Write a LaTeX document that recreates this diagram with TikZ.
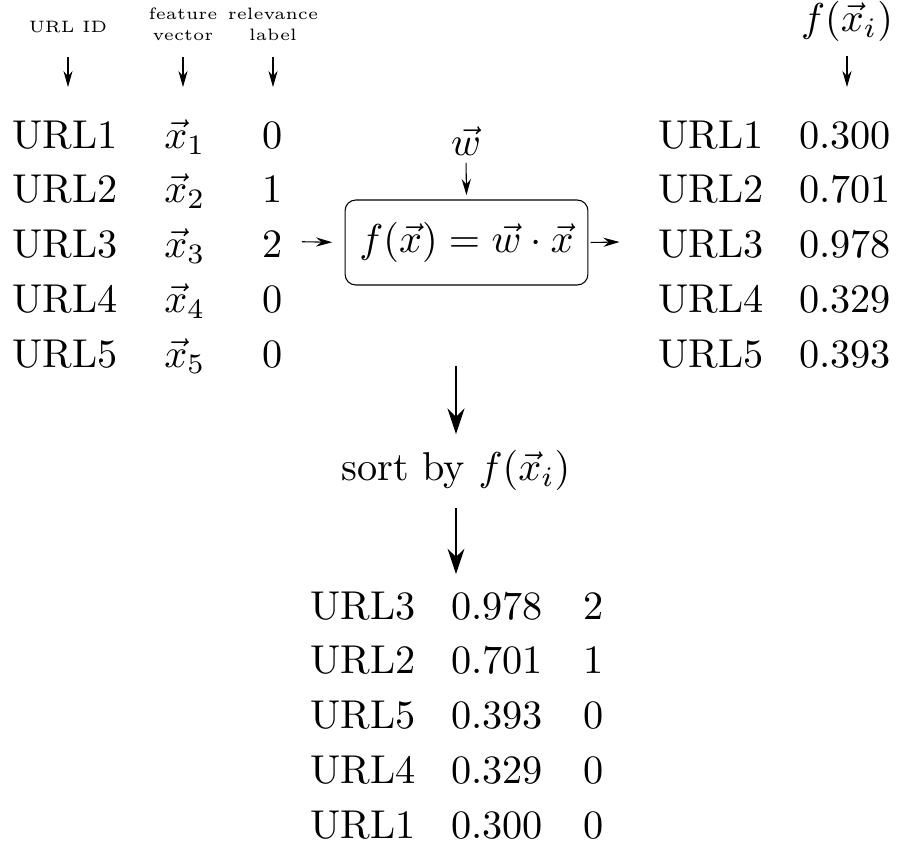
\documentclass[tikz,border=0pt]{standalone}
\usepackage{amsmath,amssymb}
\usetikzlibrary{arrows.meta}

\begin{document}
\begin{tikzpicture}[x=0.3724pt,y=-0.3724pt,
  every node/.style={scale=1.5},
  cell/.style={inner sep=0pt,anchor=base,text height=8pt,text depth=0pt},
  colhead/.style={inner sep=0pt,anchor=south,font=\fontsize{4.1}{5}\selectfont,align=center},
  sarr/.style={-{Stealth[length=6pt,width=3.4pt]}},
  barr/.style={line width=0.75pt,-{Stealth[length=9.5pt,width=6.3pt]}},
  scorebox/.style={draw,rounded corners=4pt,inner sep=0pt,minimum width=60.3pt,minimum height=21.1pt}]
  \useasboundingbox (0,0) rectangle (899,846);
  % column headings
  \node[colhead] (uid) at (68,34) {URL ID};
  \node[colhead] (fvec) at (183,41) {feature\\vector};
  \node[colhead] (rlab) at (273,41) {relevance\\label};
  \node[inner sep=0pt,anchor=south] (fxi) at (847,42) {$f(\vec{x}_i)$};
  % input list
  \node[cell] (l1u) at (65,148) {URL1}; \node[cell] (l1v) at (185,148) {$\vec{x}_1$}; \node[cell] (l1d) at (273,148) {0};
  \node[cell] (l2u) at (65,202.75) {URL2}; \node[cell] (l2v) at (185,202.75) {$\vec{x}_2$}; \node[cell] (l2d) at (273,202.75) {1};
  \node[cell] (l3u) at (65,257.5) {URL3}; \node[cell] (l3v) at (185,257.5) {$\vec{x}_3$}; \node[cell] (l3d) at (273,257.5) {2};
  \node[cell] (l4u) at (65,312.25) {URL4}; \node[cell] (l4v) at (185,312.25) {$\vec{x}_4$}; \node[cell] (l4d) at (273,312.25) {0};
  \node[cell] (l5u) at (65,367) {URL5}; \node[cell] (l5v) at (185,367) {$\vec{x}_5$}; \node[cell] (l5d) at (273,367) {0};
  % scoring function
  \node[inner sep=0pt,anchor=base] (w) at (466,155) {$\vec{w}$};
  \node[scorebox] (score) at (466.5,242.5) {$f(\vec{x})=\vec{w}\cdot\vec{x}$};
  % scores
  \node[cell] (r1u) at (711,148) {URL1}; \node[cell] (r1v) at (845,148) {0.300};
  \node[cell] (r2u) at (711,202.75) {URL2}; \node[cell] (r2v) at (845,202.75) {0.701};
  \node[cell] (r3u) at (711,257.5) {URL3}; \node[cell] (r3v) at (845,257.5) {0.978};
  \node[cell] (r4u) at (711,312.25) {URL4}; \node[cell] (r4v) at (845,312.25) {0.329};
  \node[cell] (r5u) at (711,367) {URL5}; \node[cell] (r5v) at (845,367) {0.393};
  % sorted list
  \node[inner sep=0pt,anchor=base,text height=8pt,text depth=2.7pt] (sort) at (456,480) {sort by $f(\vec{x}_i)$};
  \node[cell] (b1u) at (363,619) {URL3}; \node[cell] (b1v) at (497,619) {0.978}; \node[cell] (b1d) at (594,619) {2};
  \node[cell] (b2u) at (363,673.75) {URL2}; \node[cell] (b2v) at (497,673.75) {0.701}; \node[cell] (b2d) at (594,673.75) {1};
  \node[cell] (b3u) at (363,728.5) {URL5}; \node[cell] (b3v) at (497,728.5) {0.393}; \node[cell] (b3d) at (594,728.5) {0};
  \node[cell] (b4u) at (363,783.25) {URL4}; \node[cell] (b4v) at (497,783.25) {0.329}; \node[cell] (b4d) at (594,783.25) {0};
  \node[cell] (b5u) at (363,838) {URL1}; \node[cell] (b5v) at (497,838) {0.300}; \node[cell] (b5d) at (594,838) {0};
  % arrows
  \draw[sarr,shorten <=8.6pt,shorten >=10.4pt] (uid.south) -- (uid.south |- l1u.north);
  \draw[sarr,shorten <=6pt,shorten >=10.4pt] (fvec.south) -- (fvec.south |- l1v.north);
  \draw[sarr,shorten <=6pt,shorten >=10.4pt] (rlab.south) -- (rlab.south |- l1d.north);
  \draw[sarr,shorten <=5.2pt,shorten >=10.4pt] (fxi.south) -- (fxi.south |- r1v.north);
  \draw[sarr,shorten <=2.6pt,shorten >=1.5pt] (w.south) -- (score.north);
  \draw[sarr,shorten <=6.7pt,shorten >=4.5pt] (l3d.east) -- (score.west);
  \draw[sarr,shorten <=0.7pt,shorten >=14.2pt] (score.east) -- (r3u.west);
  \draw[barr,shorten <=29.8pt,shorten >=4.8pt] (score.south -| sort) -- (sort.north);
  \draw[barr,shorten <=6.1pt,shorten >=4.4pt] (sort.south) -- (sort.south |- b1v.north);
\end{tikzpicture}
\end{document}
